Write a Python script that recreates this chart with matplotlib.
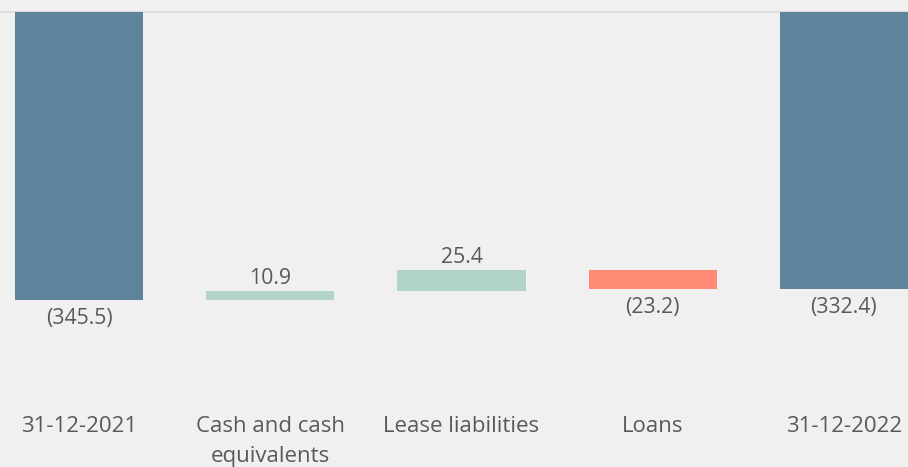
import numpy as np
import matplotlib.pyplot as plt

plt.rcParams['font.family'] = ['Open Sans', 'DejaVu Sans']

categories = ['31-12-2021', 'Cash and cash\nequivalents', 'Lease liabilities', 'Loans', '31-12-2022']
start_value = -345.5
changes = [10.9, 25.4, -23.2]
end_value = -332.4

col_total = '#5e849b'
col_up = '#b2d3ca'
col_down = '#ff8a75'
bg = '#f0f0f0'
txt = '#595959'


def fmt(v):
    return '({:.1f})'.format(abs(v)) if v < 0 else '{:.1f}'.format(v)


# waterfall geometry
heights = [start_value] + changes + [end_value]
bottoms = [0]
run = start_value
for c in changes:
    bottoms.append(run)
    run += c
bottoms.append(0)
colors = [col_total] + [col_up if c > 0 else col_down for c in changes] + [col_total]

fig = plt.figure(figsize=(9.08, 4.67), dpi=100, facecolor=bg)
ax = fig.add_axes([0, 0, 1, 1])
ax.set_facecolor(bg)

scale = 0.8336  # px per unit
x = np.arange(len(categories))
ax.set_xlim(-0.413, 4.335)
ax.set_ylim(-(467 - 12) / scale, 12 / scale)
ax.axhline(0, color='#dcdcdc', linewidth=1.3, zorder=1)

ax.bar(x, heights, bottom=bottoms, width=0.67, color=colors, zorder=2)

for i, (h, b) in enumerate(zip(heights, bottoms)):
    top = max(b, b + h)
    low = min(b, b + h)
    if h < 0:
        ax.annotate(fmt(h), (x[i], low), xytext=(0, -5.5), textcoords='offset points',
                    ha='center', va='top', fontsize=15.3, color=txt)
    else:
        ax.annotate(fmt(h), (x[i], top), xytext=(0, 1.5), textcoords='offset points',
                    ha='center', va='bottom', fontsize=15.3, color=txt)

for i, lab in enumerate(categories):
    ax.text(x[i], -(416 - 12) / scale, lab, ha='center', va='top', fontsize=16,
            color=txt, linespacing=1.55)

ax.axis('off')
fig.savefig('out.png', dpi=100, facecolor=bg)
